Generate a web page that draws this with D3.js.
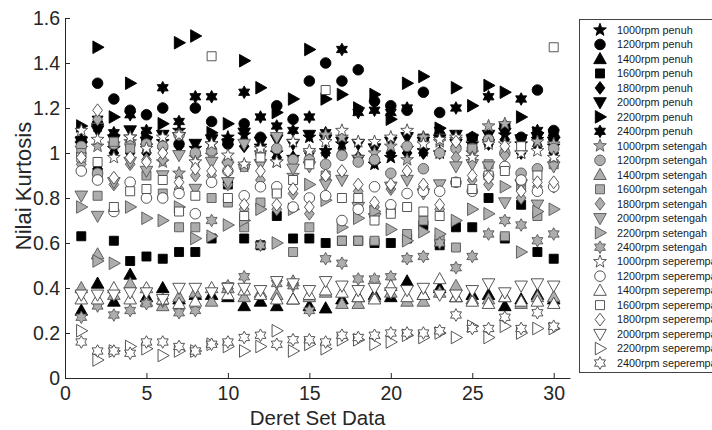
<!DOCTYPE html>
<html><head><meta charset="utf-8">
<script src="https://cdn.jsdelivr.net/npm/d3@7/dist/d3.min.js"></script>
<style>body{margin:0;background:#fff;} svg{display:block;}</style>
</head><body><svg id="c" width="712" height="430"></svg>
<script>
const dataSet = [1,2,3,4,5,6,7,8,9,10,11,12,13,14,15,16,17,18,19,20,21,22,23,24,25,26,27,28,29,30];
const xTicks = [0,5,10,15,20,25,30];
const yTicks = [0,0.2,0.4,0.6,0.8,1,1.2,1.4,1.6];
const seriesNames = ["1000rpm penuh","1200rpm penuh","1400rpm penuh","1600rpm penuh","1800rpm penuh","2000rpm penuh","2200rpm penuh","2400rpm penuh",
 "1000rpm setengah","1200rpm setengah","1400rpm setengah","1600rpm setengah","1800rpm setengah","2000rpm setengah","2200rpm setengah","2400rpm setengah",
 "1000rpm seperempat","1200rpm seperempat","1400rpm seperempat","1600rpm seperempat","1800rpm seperempat","2000rpm seperempat","2200rpm seperempat","2400rpm seperempat"];
const s1000p = [1.04,1.12,1.02,1.07,1.03,1.05,1.10,1.02,1.04,1.07,1.08,1.03,1.00,0.98,1.07,1.01,1.04,0.98,0.95,0.98,1.02,1.01,1.00,1.05,1.04,1.05,1.08,1.04,1.06,1.03];
const s1200p = [1.05,1.31,1.24,1.19,1.17,1.20,1.04,1.20,1.14,1.04,1.13,1.07,1.21,1.15,1.32,1.40,1.32,1.37,1.23,1.21,1.19,1.27,1.18,1.06,1.07,1.06,1.12,1.07,1.28,1.10];
const s1400p = [0.30,0.42,0.34,0.46,0.36,0.40,0.35,0.37,0.37,0.36,0.32,0.34,0.32,0.35,0.32,0.31,0.35,0.36,0.37,0.36,0.43,0.37,0.40,0.36,0.37,0.37,0.32,0.35,0.37,0.35];
const s1600p = [0.63,0.91,0.61,0.52,0.54,0.53,0.56,0.56,0.62,0.86,0.62,0.59,0.72,0.62,0.62,0.60,0.61,0.61,0.60,0.60,0.62,0.68,0.59,0.67,0.67,0.80,0.62,0.77,0.56,0.53];
const s1800p = [1.00,0.93,1.00,1.00,1.00,1.02,1.03,1.00,1.02,0.87,1.03,1.00,0.98,0.98,1.00,1.00,1.00,0.98,0.96,1.00,1.00,1.00,1.00,1.03,1.04,1.04,1.06,1.00,1.03,1.00];
const s2000p = [1.05,1.10,1.06,1.10,1.05,1.08,1.07,1.04,1.06,1.04,1.09,1.05,1.06,1.04,1.08,1.06,1.05,1.04,1.02,1.05,1.07,1.05,1.06,1.08,1.06,1.08,1.09,1.06,1.07,1.05];
const s2200p = [1.12,1.47,1.16,1.31,1.07,1.13,1.49,1.52,1.09,1.13,1.41,1.29,1.18,1.24,1.46,1.24,1.26,1.20,1.26,1.15,1.31,1.34,1.11,1.29,1.21,1.30,1.27,1.16,1.09,1.07];
const s2400p = [1.06,1.15,1.09,1.17,1.10,1.29,1.14,1.25,1.25,1.05,1.27,1.16,1.12,1.10,1.16,1.09,1.46,1.18,1.19,1.18,1.20,1.07,1.10,1.20,1.07,1.25,1.12,1.24,1.10,1.09];
const s1000s = [1.02,1.03,1.04,1.05,1.03,0.96,0.91,0.98,0.99,0.95,0.94,1.00,0.96,0.90,1.00,1.08,1.07,0.98,1.00,1.03,0.97,1.07,1.05,1.06,1.00,1.12,1.13,1.00,1.05,1.04];
const s1200s = [1.03,0.91,1.04,1.04,1.04,1.03,1.08,1.00,1.01,0.96,0.94,1.00,1.02,0.97,0.97,0.95,0.99,0.96,0.97,0.91,1.03,0.93,1.00,1.02,1.02,1.06,1.00,0.91,0.93,1.02];
const s1400s = [0.40,0.55,0.37,0.42,0.34,0.32,0.36,0.38,0.34,0.40,0.36,0.38,0.37,0.43,0.36,0.38,0.33,0.33,0.36,0.38,0.34,0.34,0.38,0.41,0.35,0.35,0.36,0.33,0.36,0.36];
const s1600s = [1.00,0.81,1.05,1.02,0.90,0.82,0.67,0.67,0.80,0.78,0.67,0.78,0.83,0.56,0.67,0.90,0.61,0.61,0.61,0.75,0.64,0.70,0.62,0.58,1.02,0.95,0.63,0.85,0.72,0.95];
const s1800s = [0.95,1.15,0.86,0.95,0.97,0.97,0.84,0.90,0.90,0.86,0.75,0.88,0.75,0.82,0.73,0.88,0.89,0.83,0.76,0.84,0.89,0.85,0.75,0.98,0.88,0.86,0.99,0.80,0.85,0.85];
const s2000s = [0.81,0.72,0.87,0.96,0.92,0.90,0.99,0.84,0.96,0.87,1.04,0.95,1.07,0.93,0.94,0.86,0.88,0.76,0.71,0.85,0.88,0.82,0.86,0.94,0.95,0.94,0.78,0.86,0.77,0.94];
const s2200s = [0.76,0.52,0.51,0.76,0.71,0.70,0.76,0.62,0.63,0.68,0.70,0.75,0.60,0.75,0.86,0.79,0.67,0.71,0.74,0.66,0.61,0.65,0.64,0.70,0.75,0.73,0.85,0.56,0.74,0.75];
const s2400s = [0.27,0.32,0.28,0.30,0.33,0.34,0.29,0.30,0.70,0.41,0.45,0.59,0.42,0.41,0.30,0.53,0.51,0.44,0.44,0.45,0.53,0.54,0.60,0.49,0.54,0.64,0.70,0.68,0.61,0.64];
const s1000q = [1.10,1.06,0.98,1.07,1.02,1.07,1.08,0.96,1.04,0.99,0.95,1.02,0.96,1.05,1.01,1.05,1.10,1.05,1.05,1.07,1.10,1.04,1.06,1.07,0.98,1.04,1.04,1.00,1.01,0.98];
const s1200q = [0.92,0.88,0.74,0.87,0.80,0.80,0.82,0.73,0.87,0.92,0.81,0.85,0.85,0.76,0.80,0.81,0.70,0.75,0.85,0.77,0.82,0.83,0.83,0.87,0.83,0.90,0.94,0.88,0.83,0.85];
const s1400q = [0.35,0.35,0.40,0.35,0.40,0.35,0.33,0.34,0.40,0.37,0.39,0.37,0.35,0.35,0.37,0.39,0.38,0.36,0.35,0.41,0.36,0.37,0.44,0.36,0.34,0.33,0.36,0.34,0.34,0.33];
const s1600q = [0.98,0.96,0.76,0.83,0.84,0.88,0.74,0.81,1.43,0.80,0.72,0.98,0.82,0.88,0.95,1.28,0.80,0.80,0.70,0.73,0.76,0.74,0.72,0.87,0.84,0.90,0.92,1.03,0.90,1.47];
const s1800q = [0.98,1.19,0.89,0.98,0.96,1.00,0.87,0.93,0.92,0.92,0.77,0.92,0.77,0.84,0.76,0.90,0.92,0.86,0.78,0.86,0.92,0.86,0.77,1.05,0.90,0.89,1.03,0.83,0.87,0.87];
const s2000q = [0.37,0.37,0.37,0.38,0.38,0.35,0.40,0.40,0.38,0.40,0.40,0.39,0.43,0.42,0.39,0.43,0.41,0.39,0.40,0.38,0.39,0.40,0.37,0.37,0.39,0.42,0.38,0.41,0.42,0.41];
const s2200q = [0.21,0.08,0.12,0.14,0.13,0.10,0.12,0.12,0.15,0.14,0.12,0.14,0.21,0.12,0.15,0.13,0.17,0.17,0.15,0.16,0.19,0.18,0.20,0.18,0.23,0.18,0.23,0.20,0.22,0.22];
const s2400q = [0.16,0.12,0.12,0.11,0.16,0.16,0.14,0.12,0.15,0.16,0.18,0.19,0.15,0.17,0.17,0.16,0.19,0.18,0.19,0.20,0.20,0.20,0.21,0.28,0.22,0.22,0.27,0.22,0.29,0.23];

const seriesValues = [s1000p,s1200p,s1400p,s1600p,s1800p,s2000p,s2200p,s2400p,
 s1000s,s1200s,s1400s,s1600s,s1800s,s2000s,s2200s,s2400s,
 s1000q,s1200q,s1400q,s1600q,s1800q,s2000q,s2200q,s2400q];
const shapes = ["pent","circle","up","square","diamond","down","right","hex"];
const fills = ["#000000","#adadad","#ffffff"];
const strokes = ["#000000","#555555","#444444"];

function poly(pts){return "M"+pts.map(p=>p[0].toFixed(2)+","+p[1].toFixed(2)).join("L")+"Z";}
function starPts(n,ro,ri,rot){const p=[];for(let i=0;i<2*n;i++){const r=i%2?ri:ro;const a=rot+i*Math.PI/n;p.push([r*Math.cos(a),r*Math.sin(a)]);}return p;}
function shapePath(s){
  switch(s){
    case "circle": return d3.symbol(d3.symbolCircle, Math.PI*5.3*5.3)();
    case "square": return poly([[-4.5,-4.5],[4.5,-4.5],[4.5,4.5],[-4.5,4.5]]);
    case "diamond": return poly([[0,-6.4],[4.9,0],[0,6.4],[-4.9,0]]);
    case "up": return poly([[0,-6.5],[6.3,4.7],[-6.3,4.7]]);
    case "down": return poly([[0,6.5],[6.3,-4.7],[-6.3,-4.7]]);
    case "right": return poly([[6.5,0],[-4.7,-6.3],[-4.7,6.3]]);
    case "pent": return poly(starPts(5,6.7,2.8,-Math.PI/2));
    case "hex": return poly(starPts(6,6.3,3.6,-Math.PI/2));
  }
}

const svg = d3.select("#c");
const x = d3.scaleLinear().domain([0,31]).range([65,570]);
const y = d3.scaleLinear().domain([0,1.6]).range([378,18]);
const axisColor = "#262626";
const FONT = "Liberation Sans, Arial, Helvetica, sans-serif";

const plot = svg.append("g");
seriesValues.forEach((vals,i)=>{
  const grp = Math.floor(i/8), shp = shapes[i%8];
  plot.append("g").selectAll("path").data(vals).join("path")
    .attr("d", shapePath(shp))
    .attr("transform",(v,j)=>`translate(${x(dataSet[j])},${y(v)})`)
    .attr("fill", fills[grp]).attr("stroke", strokes[grp]).attr("stroke-width",0.9);
});

const ax = svg.append("g").attr("transform","translate(0,378)")
  .call(d3.axisBottom(x).tickValues(xTicks).tickSizeInner(-5).tickSizeOuter(0).tickPadding(8).tickFormat(d3.format("d")));
const ay = svg.append("g").attr("transform","translate(65,0)")
  .call(d3.axisLeft(y).tickValues(yTicks).tickSizeInner(-5).tickSizeOuter(0).tickPadding(5).tickFormat(d=>String(+d.toFixed(1))));
[ax,ay].forEach(a=>{
  a.selectAll("path,line").attr("stroke",axisColor);
  a.selectAll("text").attr("fill",axisColor).style("font-family",FONT).style("font-size","19.5px");
});

svg.append("text").attr("x",317.5).attr("y",425).attr("text-anchor","middle")
  .style("font-family",FONT).style("font-size","20.5px").attr("fill",axisColor).text("Deret Set Data");
svg.append("text").attr("transform","translate(31,186) rotate(-90)").attr("text-anchor","middle")
  .style("font-family",FONT).style("font-size","22px").attr("fill",axisColor).text("Nilai Kurtosis");

// legend
const lg = svg.append("g");
lg.append("rect").attr("x",579.5).attr("y",19.5).attr("width",150).attr("height",353)
  .attr("fill","#fff").attr("stroke","#444").attr("stroke-width",1);
seriesNames.forEach((name,i)=>{
  const grp = Math.floor(i/8), shp = shapes[i%8];
  const yy = 30 + i*14.48;
  lg.append("path").attr("d",shapePath(shp)).attr("transform",`translate(600,${yy})`)
    .attr("fill",fills[grp]).attr("stroke",strokes[grp]).attr("stroke-width",0.9);
  lg.append("text").attr("x",617).attr("y",yy+3.8).text(name)
    .style("font-family",FONT).style("font-size","10.8px").attr("fill","#1a1a1a");
});
</script></body></html>
